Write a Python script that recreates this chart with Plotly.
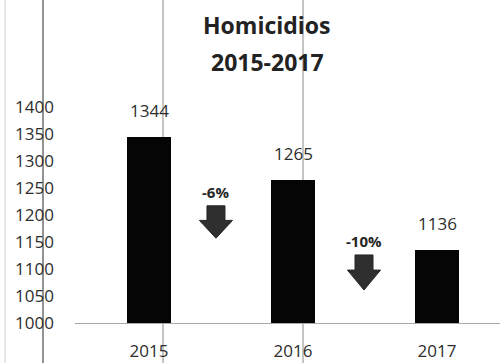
import plotly.graph_objects as go

# Homicide counts per year
years = ["2015", "2016", "2017"]
homicidios = [1344, 1265, 1136]
y_ticks = [1000, 1050, 1100, 1150, 1200, 1250, 1300, 1350, 1400]

x_pos = list(range(len(years)))
font_family = "Open Sans, Liberation Sans, sans-serif"
text_color = "#2e2e2e"

fig = go.Figure()
fig.add_trace(go.Bar(
    x=x_pos,
    y=homicidios,
    base=0,
    width=0.305,
    marker=dict(color="#050505", line=dict(width=0)),
    hoverinfo="x+y",
))

# value labels above each bar
for i, v in enumerate(homicidios):
    fig.add_annotation(
        x=x_pos[i], y=v, text=str(v), showarrow=False,
        xref="x", yref="y", yanchor="bottom", yshift=13,
        font=dict(family=font_family, size=17, color=text_color),
    )

# year-over-year change: block arrow with a percent label
arrow_geom = [
    # centre x, shaft top, head start, tip, label y
    (0.465, 1217, 1190, 1157, 1243),
    (1.493, 1126, 1098, 1061, 1152),
]
shaft_half, head_half = 0.0625, 0.115
for k, (cx, top, head, tip, ly) in enumerate(arrow_geom):
    change = (homicidios[k + 1] - homicidios[k]) / homicidios[k] * 100
    path = (
        f"M {cx - shaft_half},{top} L {cx + shaft_half},{top} "
        f"L {cx + shaft_half},{head} L {cx + head_half},{head} "
        f"L {cx},{tip} L {cx - head_half},{head} "
        f"L {cx - shaft_half},{head} Z"
    )
    fig.add_shape(type="path", path=path, xref="x", yref="y",
                  fillcolor="#2f2f2f", line=dict(color="#262626", width=1))
    fig.add_annotation(
        x=cx, y=ly, text=f"<b>{round(change):d}%</b>", showarrow=False,
        xref="x", yref="y", yanchor="middle",
        font=dict(family=font_family, size=15, color="#262626"),
    )

# two-line heading
for text, yp in [("Homicidios", 1.133), ("2015-2017", 0.992)]:
    fig.add_annotation(x=0.452, y=yp, xref="paper", yref="paper",
                       xanchor="center", yanchor="middle",
                       text=f"<b>{text}</b>", showarrow=False,
                       font=dict(family=font_family, size=23, color="#222222"))

# vertical page rules behind the chart
for px_x, col, w in [(5, "#cfcfcf", 1), (43, "#5a5a5a", 1.3),
                     (163, "#8a8a8a", 1), (303, "#8a8a8a", 1)]:
    xp = (px_x - 75) / 425
    fig.add_shape(type="line", xref="paper", yref="paper",
                  x0=xp, x1=xp, y0=-0.16, y1=1.24, layer="below",
                  line=dict(color=col, width=w))

fig.update_layout(
    width=500, height=363,
    margin=dict(l=75, r=0, t=60, b=40),
    paper_bgcolor="white", plot_bgcolor="white",
    showlegend=False,
    bargap=0,
)
fig.update_xaxes(
    range=[-0.514, 2.4375],
    tickvals=x_pos, ticktext=years,
    showgrid=False, zeroline=False, automargin=False,
    showline=True, linecolor="#a8a8a8", linewidth=1,
    ticks="", ticklabelstandoff=13,
    tickfont=dict(family=font_family, size=17, color=text_color),
)
fig.update_yaxes(
    range=[1000, 1487],
    tickvals=y_ticks,
    showgrid=False, zeroline=False, showline=False, automargin=False,
    ticks="", ticklabelstandoff=20,
    tickfont=dict(family=font_family, size=17, color=text_color),
)

fig.write_html("out.html")
